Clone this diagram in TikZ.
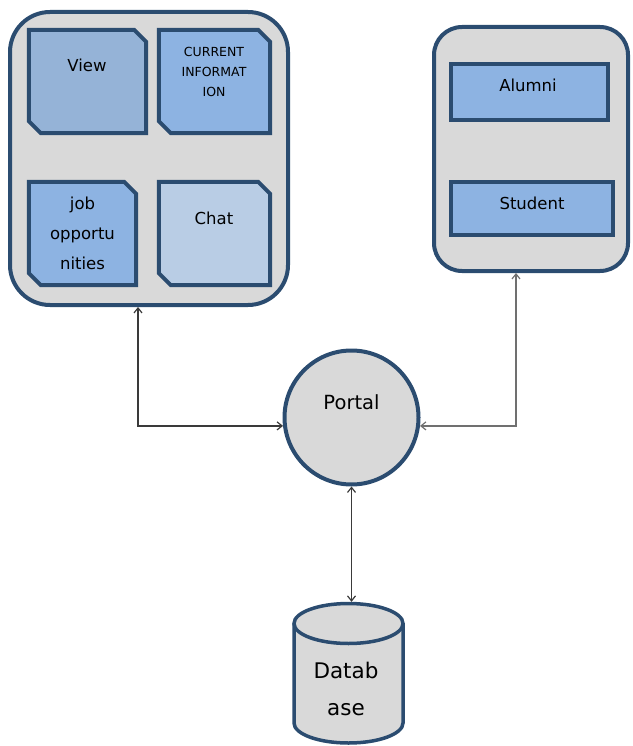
\documentclass[tikz,border=0pt]{standalone}
\usepackage{fontspec}
\setmainfont{DejaVu Sans}
\usetikzlibrary{arrows.meta}
\definecolor{bord}{HTML}{2B4C70}
\definecolor{cgray}{HTML}{D9D9D9}
\definecolor{fview}{HTML}{95B3D7}
\definecolor{fmid}{HTML}{8DB3E2}
\definecolor{fchat}{HTML}{B9CDE5}
\definecolor{lnA}{HTML}{3A3A3A}
\definecolor{lnB}{HTML}{707070}
\newcommand\snipshape[2]{%
  \draw[draw=bord,line width=4pt,fill=#2,line join=miter]
    (#1.north west) -- ([xshift=-12pt]#1.north east) -- ([yshift=-12pt]#1.north east)
    -- (#1.south east) -- ([xshift=12pt]#1.south west) -- ([yshift=12pt]#1.south west) -- cycle;}
\begin{document}
\begin{tikzpicture}[x=1pt,y=-1pt,
  container/.style={rectangle,draw=bord,line width=4pt,fill=cgray,rounded corners=#1,inner sep=0pt},
  snipbox/.style={rectangle,inner sep=0pt},
  plainbox/.style={rectangle,draw=bord,line width=4pt,inner sep=0pt,fill=fmid},
  lbl/.style={font=\fontsize{16.5}{30}\selectfont,align=center,inner sep=0pt},
  conn/.style={line width=1.2pt,{Straight Barb[length=5pt,width=8pt]}-{Straight Barb[length=5pt,width=8pt]}},
]
\useasboundingbox (0,0) rectangle (632,746);

% left container
\node[container=40pt,minimum width=278pt,minimum height=293pt] (lc) at (149,158.5) {};
\node[snipbox,minimum width=117pt,minimum height=103pt] (view) at (87.5,81.5) {};
\node[snipbox,minimum width=111pt,minimum height=103pt] (cur) at (214.5,81.5) {};
\node[snipbox,minimum width=107pt,minimum height=103pt] (job) at (82.5,233.5) {};
\node[snipbox,minimum width=111pt,minimum height=103pt] (chat) at (214.5,233.5) {};
\snipshape{view}{fview}
\snipshape{cur}{fmid}
\snipshape{job}{fmid}
\snipshape{chat}{fchat}
\node[lbl] (tview) at (87,65) {View};
\node[lbl,font=\fontsize{12.5}{20}\selectfont] (tcur) at (214,72) {CURRENT\\INFORMAT\\ION};
\node[lbl] (tjob) at (82.5,233) {job\\opportu\\nities};
\node[lbl] (tchat) at (214,218) {Chat};

% right container
\node[container=28pt,minimum width=194pt,minimum height=244pt] (rc) at (531,149) {};
\node[plainbox,minimum width=157pt,minimum height=56pt] (alum) at (529.5,92) {};
\node[plainbox,minimum width=162pt,minimum height=53pt] (stud) at (532,208.5) {};
\node[lbl] (talum) at (528,85) {Alumni};
\node[lbl] (tstud) at (532,203) {Student};

% portal
\node[circle,draw=bord,line width=4pt,fill=cgray,minimum size=134pt,inner sep=0pt] (portal) at (351.5,417.5) {};
\node[lbl,font=\fontsize{19.5}{24}\selectfont] (tportal) at (351.5,402) {Portal};

% database cylinder
\node[minimum width=113pt,minimum height=143pt,inner sep=0pt] (db) at (348.5,673.5) {};
\fill[cgray] (294,623.5) -- (294,723) arc[start angle=180,end angle=0,x radius=54.5,y radius=20] -- (403,623.5) -- cycle;
\draw[bord,line width=3.5pt] (294,623.5) -- (294,723) arc[start angle=180,end angle=0,x radius=54.5,y radius=20] -- (403,623.5);
\draw[bord,line width=3.5pt,fill=cgray] (348.5,623.5) ellipse[x radius=54.5,y radius=20];
\node[lbl,font=\fontsize{21.5}{37}\selectfont] (tdb) at (346,688.5) {Datab\\ase};

% connectors
\draw[conn,lnA] ([xshift=-11pt]lc.south) |- (portal.187);
\draw[conn,lnB] ([xshift=-15pt]rc.south) |- (portal.353);
\draw[conn,lnA] (portal.south) -- (portal.south |- db.north);
\end{tikzpicture}
\end{document}
